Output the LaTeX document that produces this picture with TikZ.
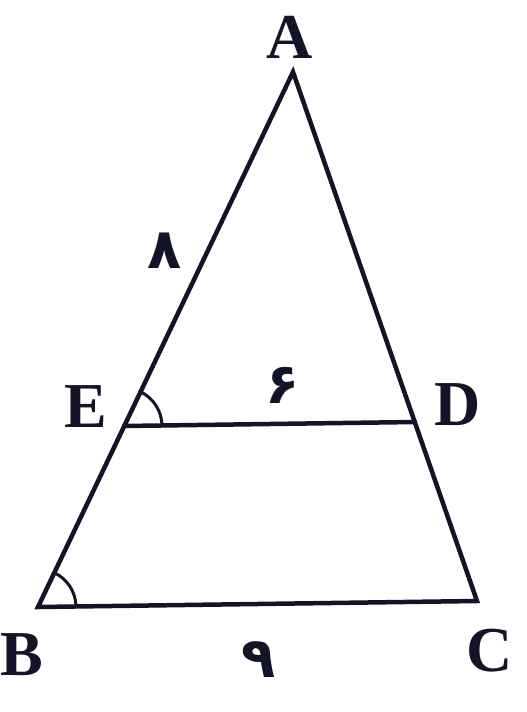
\documentclass[tikz,border=0pt]{standalone}
\usepackage{fontspec}
\setmainfont{Liberation Serif}
\newfontfamily\digitfont{DejaVu Sans}
\usetikzlibrary{calc}
\definecolor{ink}{RGB}{20,20,40}
\tikzset{
    side/.style={draw=ink, line width=4.5pt, line join=miter, line cap=round},
    anglemark/.style={draw=ink, line width=3pt},
    vertexlabel/.style={font=\fontsize{64}{68}\selectfont\bfseries, text=ink, inner sep=0pt},
    lengthlabel/.style={font=\digitfont\bfseries\fontsize{56}{60}\selectfont, text=ink, inner sep=0pt}
}
\begin{document}
\begin{tikzpicture}[x=1pt, y=-1pt]
\useasboundingbox (0,0) rectangle (527,712);

% corners of the triangle
\coordinate (A) at (293,72);
\coordinate (B) at (38,607);
\coordinate (C) at (477,601);
\coordinate (E) at (124,426);
\coordinate (D) at (415,422);

% sides
\draw[side] (A) -- (B) -- (C) -- cycle;
\draw[side] (E) -- (D);

% equal angles
\draw[anglemark] ($(E)+(38,-0.5)$) arc[start angle=-0.8, end angle=-64.5, radius=38];
\draw[anglemark] ($(B)+(38,-0.5)$) arc[start angle=-0.8, end angle=-64.5, radius=38];

% vertex names
\node[vertexlabel] (lA) at (290,37) {A};
\node[vertexlabel] (lE) at (86,407) {E};
\node[vertexlabel] (lD) at (458,405) {D};
\node[vertexlabel] (lB) at (22,655) {B};
\node[vertexlabel] (lC) at (490,651) {C};

% lengths
\node[lengthlabel] (lAE) at (165,251) {٨};
\node[lengthlabel] (lED) at (283,385) {۶};
\node[lengthlabel] (lBC) at (259,660) {٩};
\end{tikzpicture}
\end{document}
